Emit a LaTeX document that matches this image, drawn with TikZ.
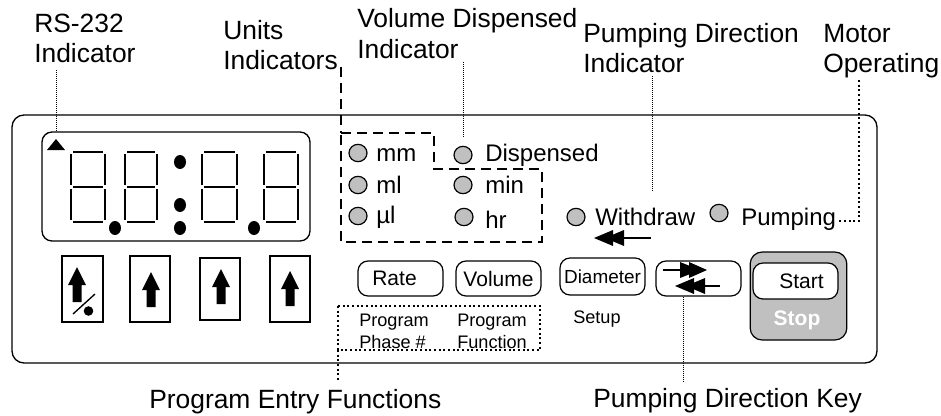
\documentclass[tikz,border=0pt]{standalone}
\usepackage{fontspec}
\setmainfont{Liberation Sans}
\usetikzlibrary{shapes.geometric}
\definecolor{ledgray}{HTML}{C0C0C0}
\tikzset{
  big/.style={font=\fontsize{19.8}{19.8}\selectfont,inner sep=0pt,anchor=base west},
  small/.style={font=\fontsize{13.6}{13.6}\selectfont,inner sep=0pt,anchor=base west},
  led/.style={ellipse,draw,line width=0.9pt,fill=ledgray,minimum width=13.5pt,minimum height=13pt,inner sep=0pt},
  ledtext/.style={font=\fontsize{18}{18}\selectfont,inner sep=0pt,anchor=base west},
  btn/.style n args={2}{draw,line width=0.9pt,rounded corners=7.5pt,minimum width=#1*0.75pt,minimum height=#2*0.75pt,inner sep=0pt,font=\fontsize{15.75}{15.75}\selectfont},
  keybox/.style n args={2}{draw,line width=0.9pt,minimum width=#1*0.75pt,minimum height=#2*0.75pt,inner sep=0pt},
  frameline/.style={line width=1pt,rounded corners=9pt},
  dashline/.style={line width=1.5pt,dash pattern=on 7.5pt off 4.5pt},
  thindot/.style={line width=0.5pt,dash pattern=on 0.75pt off 0.75pt},
  thickdot/.style={line width=1.2pt,dash pattern=on 1.5pt off 2pt},
  seg/.style={line width=0.9pt},
  dpoint/.style={ellipse,fill=black,minimum width=9pt,minimum height=10.5pt,inner sep=0pt}
}
\newcommand{\sevenseg}[2]{%
  \draw[seg] (#1+2,152)--(#2-2,152);
  \draw[seg] (#1+2,187)--(#2-2,187);
  \draw[seg] (#1+2,222)--(#2-2,222);
  \draw[seg] (#1,154)--(#1,185);
  \draw[seg] (#2,154)--(#2,185);
  \draw[seg] (#1,189)--(#1,220);
  \draw[seg] (#2,189)--(#2,220);
}
\newcommand{\keyarrow}[2]{%
  \fill (#1,#2)--(#1+9,#2+18)--(#1+4.5,#2+18)--(#1+4.5,#2+35)--(#1-4.5,#2+35)--(#1-4.5,#2+18)--(#1-9,#2+18)--cycle;
}
\newcommand{\rdouble}[3]{%
  \draw[line width=0.9pt] (#3,#2)--(#1-10,#2);
  \fill (#1-27,#2-8)--(#1-7,#2)--(#1-27,#2+8)--cycle;
  \fill (#1-18,#2-8)--(#1,#2)--(#1-18,#2+8)--cycle;
}
\newcommand{\ldouble}[3]{%
  \draw[line width=0.9pt] (#3,#2)--(#1+10,#2);
  \fill (#1+19,#2-8)--(#1,#2)--(#1+19,#2+8)--cycle;
  \fill (#1+30,#2-8)--(#1+11,#2)--(#1+30,#2+8)--cycle;
}
\begin{document}
\begin{tikzpicture}[x=0.75pt,y=-0.75pt]
\useasboundingbox (0,0) rectangle (941,415);
% panel
\draw[frameline] (12,115) rectangle (877,363);
\draw[frameline,rounded corners=7.5pt] (42,132) rectangle (310,241);
\fill (47,150)--(65,150)--(56,139)--cycle;
% display
\sevenseg{71}{105}
\sevenseg{125}{157}
\sevenseg{202}{237}
\sevenseg{264}{298}
\node[dpoint] (d1) at (115,228) {};
\node[dpoint] (d2) at (180,162) {};
\node[dpoint] (d3) at (180,205) {};
\node[dpoint] (d4) at (180,228) {};
\node[dpoint] (d5) at (254,228) {};
% keys
\node[keybox={41}{66}] (k1) at (82.5,289) {};
\node[keybox={40}{66}] (k2) at (150,289) {};
\node[keybox={40}{62}] (k3) at (220,289) {};
\node[keybox={40}{66}] (k4) at (290,289) {};
\keyarrow{77}{267}
\keyarrow{151}{272}
\keyarrow{221}{269}
\keyarrow{290}{271}
\draw[line width=1pt] (73,314)--(95,294);
\fill (88.5,311) circle[radius=3.6pt];
% LEDs
\node[led] (mm) at (358,153) {};
\node[led] (ml) at (358,185) {};
\node[led] (ul) at (358,216) {};
\node[led] (disp) at (463,155) {};
\node[led] (min) at (463,185) {};
\node[led] (hr) at (464,217) {};
\node[led] (wd) at (576,217) {};
\node[led] (pu) at (719,213) {};
\node[ledtext] (tmm) at (376,161) {mm};
\node[ledtext] (tml) at (376,193) {ml};
\node[ledtext] (tul) at (376,223) {µl};
\node[ledtext] (tdisp) at (485,161) {Dispensed};
\node[ledtext] (tmin) at (485,193) {min};
\node[ledtext] (thr) at (485,228) {hr};
\node[ledtext] (twd) at (595,225) {Withdraw};
\node[ledtext] (tpu) at (741,225) {Pumping};
% units dashed outline
\draw[dashline] (341,133)--(434,133)--(434,169)--(542,169)--(542,242)--(341,242)--cycle;
\coordinate (unitsTop) at (341,67);
\coordinate (unitsBox) at (341,133);
\draw[dashline] (unitsTop)--(unitsBox);
% arrows
\ldouble{594}{238}{651}
% buttons
\node[btn={85}{35}] (rate) at (400.5,278.5) {Rate\hspace*{9pt}};
\node[btn={85}{35}] (volume) at (498.5,278.5) {Volume};
\node[btn={85}{37}] (diam) at (602.5,276.5) {\fontsize{14.2}{14.2}\selectfont Diameter};
\node[btn={85}{35}] (dirkey) at (698.5,278.5) {};
\rdouble{707}{270}{663}
\ldouble{675}{286}{720}
\node[draw,line width=0.9pt,fill=ledgray,rounded corners=9pt,minimum width=72.5pt,minimum height=66pt,inner sep=0pt] (stopbox) at (798.5,296) {};
\node[btn={85}{36},fill=white] (start) at (795.5,281) {\hspace*{9pt}Start};
\node[font=\bfseries\fontsize{15.75}{15.75}\selectfont,text=white,inner sep=0pt] (stoptxt) at (797,320) {Stop};
% program box
\draw[thickdot] (338,306) rectangle (540,350);
\node[small] (p1) at (359,326) {Program};
\node[small] (p2) at (359,348) {Phase \#};
\node[small] (p3) at (457,326) {Program};
\node[small] (p4) at (457,348) {Function};
\node[small] (setup) at (573,323) {Setup};
\coordinate (progbox) at (338,350);
\coordinate (progend) at (338,382);
\draw[thickdot] (progbox)--(progend);
% leaders
\coordinate (rsA) at (56,70);
\coordinate (rsB) at (56,132);
\draw[thindot] (rsA)--(rsB);
\coordinate (volA) at (463,62);
\coordinate (volB) at (463,137);
\draw[thindot] (volA)--(volB);
\coordinate (pdA) at (652,76);
\coordinate (pdB) at (652,192);
\draw[thindot] (pdA)--(pdB);
\coordinate (keyEnd) at (683,381);
\draw[thindot] (dirkey.south -| keyEnd)--(keyEnd);
\coordinate (moA) at (859,80);
\coordinate (moB) at (859,221);
\coordinate (moC) at (838,221);
\draw[thickdot,line width=1pt] (moA)--(moB)--(moC);
% labels
\node[big] (l1a) at (34,32) {RS-232};
\node[big] (l1b) at (34,62) {Indicator};
\node[big] (l2a) at (223,39) {Units};
\node[big] (l2b) at (223,69) {Indicators};
\node[big] (l3a) at (357,27) {Volume Dispensed};
\node[big] (l3b) at (357,58) {Indicator};
\node[big] (l4a) at (583,42) {Pumping Direction};
\node[big] (l4b) at (583,72) {Indicator};
\node[big] (l5a) at (823,42) {Motor};
\node[big] (l5b) at (823,72) {Operating};
\node[big] (l6) at (149,408) {Program Entry Functions};
\node[big] (l7) at (593,407) {Pumping Direction Key};
\end{tikzpicture}
\end{document}
